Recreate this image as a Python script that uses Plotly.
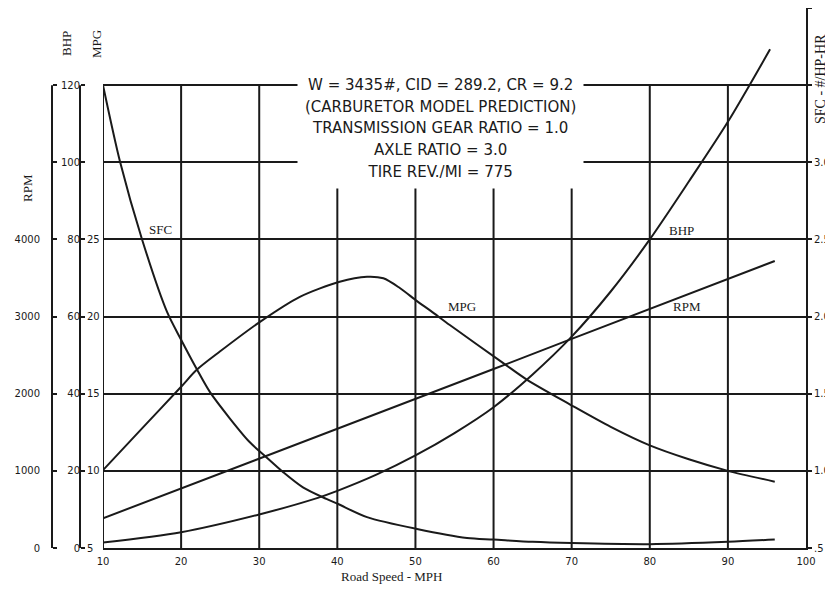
import plotly.graph_objects as go

# ---------------- data ----------------
sfc_mph = [10, 12.2, 15, 18.2, 20, 22, 23.7, 26.3, 28.8, 30.7, 33.1, 35.6, 38.6, 40.1, 43.8, 50.2, 56.6, 60, 65, 70, 80, 90, 96]
sfc_val = [3.50, 3.00, 2.50, 2.03, 1.85, 1.66, 1.51, 1.336, 1.185, 1.098, 0.99, 0.893, 0.818, 0.785, 0.70, 0.623, 0.565, 0.555, 0.54, 0.532, 0.525, 0.54, 0.555]

mpg_mph = [10, 15, 20, 22, 25, 30.1, 35.2, 40.3, 43.8, 45.9, 48, 50.2, 52, 54.4, 61.2, 64.3, 69.8, 75, 80, 85, 90, 96]
mpg_val = [10.05, 12.75, 15.45, 16.55, 17.75, 19.66, 21.28, 22.26, 22.58, 22.48, 21.85, 21.0, 20.35, 19.45, 17.0, 15.9, 14.3, 12.85, 11.65, 10.75, 10.0, 9.3]

bhp_mph = [10, 20, 30, 37.5, 40, 45, 50, 55, 60, 65, 70, 75, 80, 85, 90, 95.4]
bhp_val = [1.4, 4.1, 8.7, 13.0, 14.8, 19.0, 24.0, 29.8, 36.5, 45.0, 54.8, 66.5, 80.0, 95.0, 110.5, 129.3]

rpm_mph = [10, 20, 30, 40, 50, 60, 70, 80, 90, 96]
rpm_val = [385, 770, 1160, 1545, 1935, 2320, 2710, 3095, 3485, 3720]

x_ticks = [10, 20, 30, 40, 50, 60, 70, 80, 90, 100]
bhp_ticks = [0, 20, 40, 60, 80, 100, 120]
bhp_text = ["0", "20", "40", "60", "80", "100", "120"]
mpg_ticks = [5, 10, 15, 20, 25, 30, 35]
mpg_text = ["5", "10", "15", "20", "25", "", ""]
rpm_ticks = [0, 1000, 2000, 3000, 4000]
rpm_text = ["0", "1000", "2000", "3000", "4000"]
sfc_ticks = [0.5, 1.0, 1.5, 2.0, 2.5, 3.0, 3.5, 4.0]
sfc_text = [".5", "1.0", "1.5", "2.0", "2.5", "3.0", "", ""]

title_lines = [
    "W = 3435#, CID = 289.2, CR = 9.2",
    "(CARBURETOR MODEL PREDICTION)",
    "TRANSMISSION GEAR RATIO = 1.0",
    "AXLE RATIO = 3.0",
    "TIRE REV./MI = 775",
]

# ---------------- styling / layout geometry ----------------
INK = "#1a1a1a"
TICKFONT = dict(family="DejaVu Sans, sans-serif", size=10, color=INK)
LABELFONT = dict(family="Liberation Serif, DejaVu Serif, serif", size=13, color=INK)

W, H = 825, 576          # the page body adds an 8px margin on every side
ML, MR, MT, MB = 0, 27, 0, 36
PW = W - ML - MR         # 798
PH = H - MT - MB         # 540

def px(x):
    return x / PW

def py(y):
    return (PH - y) / PH

x_dom0 = px(95)
pos_line1 = px(44)
pos_line2 = px(72)
pos_rpm_lab = px(32)

fig = go.Figure()
line_style = dict(color=INK, width=2, shape="spline", smoothing=0.8)
fig.add_trace(go.Scatter(x=bhp_mph, y=bhp_val, mode="lines", line=line_style, yaxis="y", name="BHP", hoverinfo="skip"))
fig.add_trace(go.Scatter(x=mpg_mph, y=mpg_val, mode="lines", line=line_style, yaxis="y2", name="MPG", hoverinfo="skip"))
fig.add_trace(go.Scatter(x=rpm_mph, y=rpm_val, mode="lines", line=dict(color=INK, width=2), yaxis="y3", name="RPM", hoverinfo="skip"))
fig.add_trace(go.Scatter(x=sfc_mph, y=sfc_val, mode="lines", line=line_style, yaxis="y4", name="SFC", hoverinfo="skip"))
# carrier for the tick marks on the outer left scale line
fig.add_trace(go.Scatter(x=[None], y=[None], mode="lines", yaxis="y5", showlegend=False, hoverinfo="skip"))

shapes = []
for xv in x_ticks[:-1]:
    shapes.append(dict(type="line", xref="x", yref="y", x0=xv, x1=xv, y0=0, y1=bhp_ticks[-1],
                       line=dict(color=INK, width=2), layer="below"))
for p in (pos_line1, pos_line2):
    shapes.append(dict(type="line", xref="paper", yref="y", x0=p, x1=p, y0=0, y1=bhp_ticks[-1],
                       line=dict(color=INK, width=2)))

def note(text, x, y, xref="paper", yref="paper", angle=0, font=LABELFONT, **kw):
    return dict(text=text, x=x, y=y, xref=xref, yref=yref, textangle=angle, showarrow=False,
                xanchor="center", yanchor="middle", font=font, **kw)

annotations = [
    note("<br>".join(title_lines), px(432), py(119.5), bgcolor="white", borderpad=7,
         font=dict(family="DejaVu Sans Condensed, Liberation Sans, sans-serif", size=16.7, color=INK)),
    note("SFC", 17.3, 82.7, "x", "y"),
    note("MPG", 56.0, 62.5, "x", "y"),
    note("BHP", 84.0, 82.2, "x", "y"),
    note("RPM", 84.8, 62.5, "x", "y"),
    note("Road Speed - MPH", px(383), py(568)),
    note("BHP", px(59), py(36), angle=-90),
    note("MPG", px(89), py(36), angle=-90),
    note("RPM", px(19), py(180), angle=-90),
    note("SFC - #/HP-HR", px(812), py(71), angle=-90, font=dict(LABELFONT, size=14)),
]

common = dict(zeroline=False, fixedrange=True, automargin=False)

fig.update_layout(
    template="none",
    width=W, height=H, autosize=False,
    margin=dict(l=ML, r=MR, t=MT, b=MB, pad=0),
    paper_bgcolor="white", plot_bgcolor="white",
    showlegend=False,
    shapes=shapes, annotations=annotations,
    xaxis=dict(domain=[x_dom0, 1], range=[10, 100], anchor="y", tickvals=x_ticks,
               showgrid=False, showline=True, linecolor=INK, linewidth=2,
               ticks="outside", ticklen=3, tickcolor="rgba(0,0,0,0)", tickfont=TICKFONT, **common),
    yaxis=dict(range=[0, 140], anchor="free", position=pos_line2, side="left",
               tickvals=bhp_ticks, ticktext=bhp_text, showgrid=True, gridcolor=INK, gridwidth=2,
               showline=False, ticks="", tickfont=TICKFONT, **common),
    yaxis2=dict(range=[5, 40], overlaying="y", anchor="free", position=pos_line2, side="right",
                tickvals=mpg_ticks, ticktext=mpg_text, showgrid=False, showline=False,
                ticks="outside", ticklen=4, tickwidth=2, tickcolor=INK, tickfont=TICKFONT, **common),
    yaxis3=dict(range=[0, 7000], overlaying="y", anchor="free", position=pos_rpm_lab, side="left",
                tickvals=rpm_ticks, ticktext=rpm_text, showgrid=False, showline=False,
                ticks="", tickfont=TICKFONT, **common),
    yaxis4=dict(range=[0.5, 4.0], overlaying="y", anchor="x", side="right",
                tickvals=sfc_ticks, ticktext=sfc_text, showgrid=False,
                showline=True, linecolor=INK, linewidth=2,
                ticks="outside", ticklen=4, tickwidth=2, tickcolor=INK, tickfont=TICKFONT, **common),
    yaxis5=dict(range=[0, 140], overlaying="y", anchor="free", position=pos_line1, side="right",
                tickvals=bhp_ticks, showticklabels=False, showgrid=False, showline=False,
                ticks="outside", ticklen=4, tickwidth=2, tickcolor=INK, **common),
)

fig.write_html("out.html")
